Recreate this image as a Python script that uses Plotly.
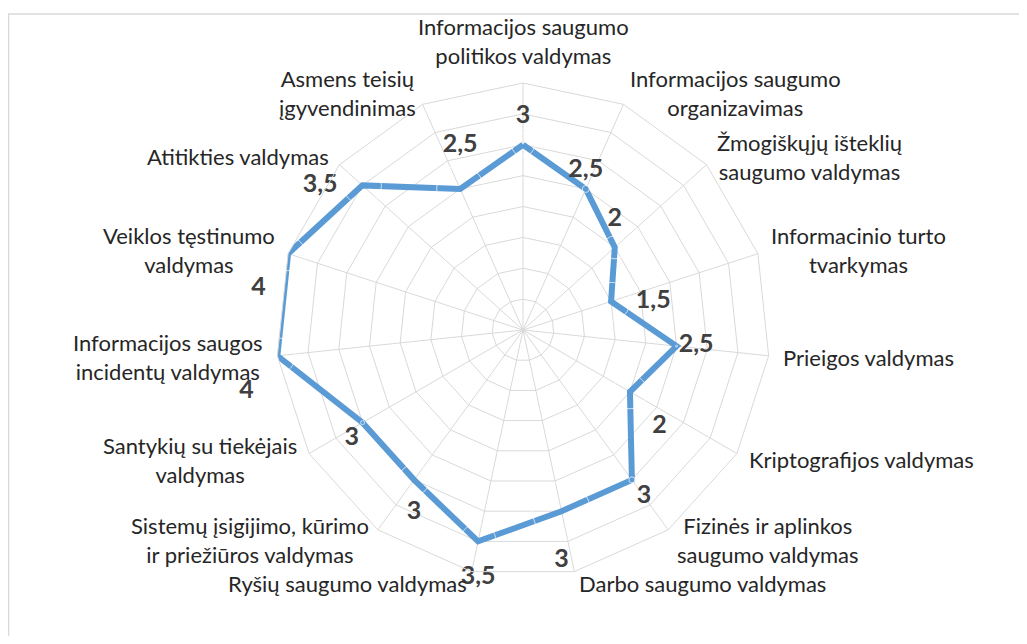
import math
import plotly.graph_objects as go

categories = [
    "Informacijos saugumo<br>politikos valdymas",
    "Informacijos saugumo<br>organizavimas",
    "Žmogiškųjų išteklių<br>saugumo valdymas",
    "Informacinio turto<br>tvarkymas",
    "Prieigos valdymas",
    "Kriptografijos valdymas",
    "Fizinės ir aplinkos<br>saugumo valdymas",
    "Darbo saugumo valdymas",
    "Ryšių saugumo valdymas",
    "Sistemų įsigijimo, kūrimo<br>ir priežiūros valdymas",
    "Santykių su tiekėjais<br>valdymas",
    "Informacijos saugos<br>incidentų valdymas",
    "Veiklos tęstinumo<br>valdymas",
    "Atitikties valdymas",
    "Asmens teisių<br>įgyvendinimas",
]
values = [3, 2.5, 2, 1.5, 2.5, 2, 3, 3, 3.5, 3, 3, 4, 4, 3.5, 2.5]

# value-label placement relative to each point (style only)
label_positions = [
    "top center", "top center", "top center", "middle right", "middle right",
    "bottom right", "bottom right", "bottom center", "bottom center", "bottom center",
    "bottom left", "bottom left", "bottom left", "middle left", "top center",
]
label_gaps = [23, 7, 23, 38, 2, 34, 6, 58, 36, 31, 4, 36, 34, 38, 47]


def fmt(v):
    return (f"{v:g}").replace(".", ",")


labels = [fmt(v) for v in values]

fig = go.Figure()
fig.add_trace(go.Scatterpolar(
    r=values + values[:1],
    theta=categories + categories[:1],
    mode="lines",
    line=dict(color="#5B9BD5", width=6),
    hoverinfo="skip",
    showlegend=False,
))
fig.add_trace(go.Scatterpolar(
    r=values,
    theta=categories,
    mode="markers+text",
    marker=dict(size=label_gaps, color="rgba(0,0,0,0)"),
    text=labels,
    textposition=label_positions,
    textfont=dict(family="Lato, Calibri, sans-serif", size=25, color="#404040", weight="bold"),
    cliponaxis=False,
    hoverinfo="skip",
    showlegend=False,
))

# page body adds an 8px margin; figure is sized to fit inside the window
W, H = 1011, 628
cx, cy, R = 515, 322, 247
gap = 12

# category labels placed just outside the outer ring, lines centred (Excel style)
annotations = []
n = len(categories)
for i, cat in enumerate(categories):
    a = 2 * math.pi * i / n
    s, c = math.sin(a), math.cos(a)
    px = cx + (R + gap) * s
    py = cy - (R + gap) * c
    if abs(s) < 0.05:
        xa, ya = "center", ("bottom" if c > 0 else "top")
    else:
        xa, ya = ("left" if s > 0 else "right"), "middle"
    annotations.append(dict(
        x=px / W, y=1 - py / H, xref="paper", yref="paper",
        text=cat, showarrow=False, xanchor=xa, yanchor=ya, align="center",
        font=dict(family="Lato, Calibri, sans-serif", size=22, color="#262626"),
    ))

fig.update_layout(
    width=W, height=H,
    margin=dict(l=0, r=0, t=0, b=0),
    paper_bgcolor="white",
    plot_bgcolor="white",
    showlegend=False,
    polar=dict(
        domain=dict(x=[(cx - R) / W, (cx + R) / W], y=[(H - cy - R) / H, (H - cy + R) / H]),
        bgcolor="white",
        gridshape="linear",
        radialaxis=dict(
            range=[0, 4], dtick=0.5, showticklabels=False, ticks="",
            showline=False, gridcolor="#D9D9D9", gridwidth=1,
        ),
        angularaxis=dict(
            direction="clockwise", rotation=90, showticklabels=False,
            ticks="", showline=True, linecolor="#D9D9D9", linewidth=1,
            gridcolor="#D9D9D9", gridwidth=1,
        ),
    ),
    annotations=annotations,
    shapes=[dict(
        type="rect", xref="paper", yref="paper",
        x0=0.5 / W, x1=1.05, y0=-0.05, y1=1 - 6 / H,
        line=dict(color="#D9D9D9", width=1.5), fillcolor="rgba(0,0,0,0)", layer="below",
    )],
)

fig.write_html("out.html")
